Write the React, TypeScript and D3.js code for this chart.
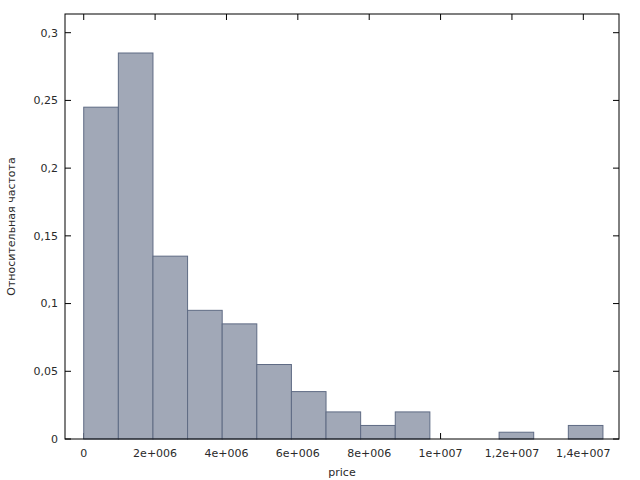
import React from "react";
import * as d3 from "d3";

const binStart = 0;
const binWidth = 0.97e6;
const freqs = [0.245, 0.285, 0.135, 0.095, 0.085, 0.055, 0.035, 0.02, 0.01, 0.02, 0, 0, 0.005, 0, 0.01];
const xTicks = [0, 2e6, 4e6, 6e6, 8e6, 1e7, 1.2e7, 1.4e7];
const xTickLabels = ["0", "2e+006", "4e+006", "6e+006", "8e+006", "1e+007", "1,2e+007", "1,4e+007"];
const yTicks = [0, 0.05, 0.1, 0.15, 0.2, 0.25, 0.3];
const yTickLabels = ["0", "0,05", "0,1", "0,15", "0,2", "0,25", "0,3"];
const xTitle = "price";
const yTitle = "Относительная частота";

const W = 640, H = 480;
const L = 65, R = 619, T = 14, B = 439;
const TICK = 6;
const FONT = "'DejaVu Sans', Verdana, sans-serif";
const TXT = "#2a2a2a";

export default function App() {
  const x = d3.scaleLinear().domain([-0.525e6, 15.0e6]).range([L, R]);
  const y = d3.scaleLinear().domain([0, 0.3138]).range([B, T]);
  return (
    <svg width={W} height={H} style={{ position: "absolute", left: 0, top: 0, background: "#fff" }}>
      {xTicks.map((t, i) => (
        <g key={i}>
          <line x1={x(t)} x2={x(t)} y1={T} y2={T + TICK} stroke="#000" />
          <line x1={x(t)} x2={x(t)} y1={B} y2={B - TICK} stroke="#000" />
          <text x={x(t)} y={457} textAnchor="middle" fontFamily={FONT} fontSize={11} fill={TXT}>{xTickLabels[i]}</text>
        </g>
      ))}
      {yTicks.map((t, i) => (
        <g key={i}>
          <line x1={L} x2={L + TICK} y1={y(t)} y2={y(t)} stroke="#000" />
          <line x1={R} x2={R - TICK} y1={y(t)} y2={y(t)} stroke="#000" />
          <text x={58} y={y(t)} dy="0.35em" textAnchor="end" fontFamily={FONT} fontSize={11} fill={TXT}>{yTickLabels[i]}</text>
        </g>
      ))}
      {freqs.map((f, i) => {
        if (f <= 0) return null;
        const x0 = x(binStart + i * binWidth);
        const x1 = x(binStart + (i + 1) * binWidth);
        return (
          <rect key={i} x={x0} y={y(f)} width={x1 - x0} height={y(0) - y(f)}
            fill="#a1a8b7" stroke="#5f6b84" strokeWidth={1} />
        );
      })}
      <rect x={L} y={T} width={R - L} height={B - T} fill="none" stroke="#000" strokeWidth={1} />
      <text x={(L + R) / 2} y={476} textAnchor="middle" fontFamily={FONT} fontSize={11} fill={TXT}>{xTitle}</text>
      <text transform={`translate(15, ${(T + B) / 2}) rotate(-90)`} textAnchor="middle" fontFamily={FONT} fontSize={11} fill={TXT}>{yTitle}</text>
    </svg>
  );
}
